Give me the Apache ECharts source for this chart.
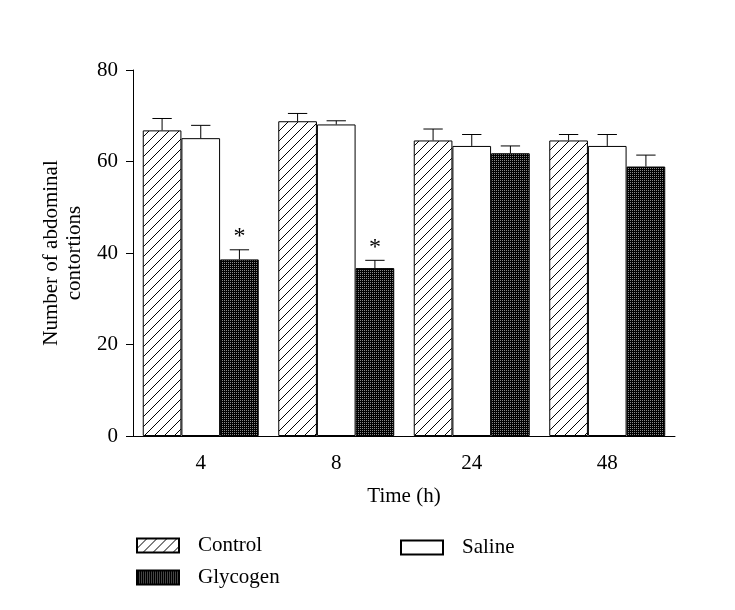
<!DOCTYPE html>
<html>
<head>
<meta charset="utf-8">
<script src="https://cdn.jsdelivr.net/npm/echarts@6/dist/echarts.min.js"></script>
<style>
    html, body { margin: 0; padding: 0; background: #fff; }
    #chart { width: 735px; height: 610px; }
</style>
</head>
<body>
<div id="chart"></div>
<script>
// values (mean and upper error)
const categories = ['4', '8', '24', '48']
const control = [66.8, 68.8, 64.6, 64.6]
const controlErr = [2.6, 1.7, 2.5, 1.3]
const saline = [65.1, 68.1, 63.4, 63.4]
const salineErr = [2.8, 0.8, 2.5, 2.5]
const glycogen = [38.6, 36.7, 61.8, 58.9]
const glycogenErr = [2.1, 1.7, 1.6, 2.5]
const significant = [true, true, false, false]   // * over glycogen
const yTicks = [0, 20, 40, 60, 80]

const FONT = 'Liberation Serif'
const FS = 21
const CAT_GAP = 0.144

function hatchPattern() {
    const c = document.createElement('canvas')
    c.width = 10
    c.height = 10
    const g = c.getContext('2d')
    g.fillStyle = '#fff'
    g.fillRect(0, 0, 10, 10)
    g.strokeStyle = '#000'
    g.lineWidth = 1
    g.beginPath()
    g.moveTo(0, 10); g.lineTo(10, 0)
    g.moveTo(-1, 1); g.lineTo(1, -1)
    g.moveTo(9, 11); g.lineTo(11, 9)
    g.stroke()
    return c
}

function dotPattern() {
    const c = document.createElement('canvas')
    c.width = 2
    c.height = 2
    const g = c.getContext('2d')
    g.fillStyle = '#000'
    g.fillRect(0, 0, 2, 2)
    g.fillStyle = '#8a8a8a'
    g.fillRect(0, 0, 1, 1)
    return c
}

const hatchFill = { image: hatchPattern(), repeat: 'repeat' }
const dotFill = { image: dotPattern(), repeat: 'repeat' }

function errorSeries(name, values, errs, offset, stars) {
    return {
        name: name + ' err',
        type: 'custom',
        z: 5,
        silent: true,
        data: values.map((v, i) => [i, v, errs[i], stars && stars[i] ? 1 : 0]),
        renderItem(params, api) {
            const idx = api.value(0)
            const val = api.value(1)
            const err = api.value(2)
            const catW = api.size([1, 0])[0]
            const barW = catW * (1 - CAT_GAP) / 3
            const x = api.coord([idx, 0])[0] + offset * barW
            const yTop = api.coord([idx, val])[1]
            const yErr = api.coord([idx, val + err])[1]
            const style = { stroke: '#000', lineWidth: 1 }
            const children = [
                { type: 'line', shape: { x1: x, y1: yTop, x2: x, y2: yErr }, style },
                { type: 'line', shape: { x1: x - barW / 4, y1: yErr, x2: x + barW / 4, y2: yErr }, style }
            ]
            if (api.value(3)) {
                children.push({
                    type: 'text',
                    style: {
                        text: '*', x: x, y: yErr - 1,
                        align: 'center', verticalAlign: 'bottom',
                        font: '24px "' + FONT + '"', fill: '#000'
                    }
                })
            }
            return { type: 'group', children }
        }
    }
}

const myChart = echarts.init(document.getElementById('chart'))
myChart.setOption({
    animation: false,
    textStyle: { fontFamily: FONT, color: '#000' },
    grid: { left: 133, right: 60, top: 70, bottom: 174 },
    legend: [
        { data: ['Control'], left: 131, top: 530 },
        { data: ['Saline'], left: 395, top: 532 },
        { data: ['Glycogen'], left: 131, top: 562 }
    ].map(l => Object.assign(l, {
        itemWidth: 42,
        itemHeight: 14,
        icon: 'rect',
        textStyle: { fontFamily: FONT, fontSize: FS, color: '#000', padding: [0, 0, 0, 14] }
    })),
    xAxis: {
        type: 'category',
        data: categories,
        name: 'Time (h)',
        nameLocation: 'middle',
        nameGap: 50,
        nameTextStyle: { fontFamily: FONT, fontSize: FS, color: '#000' },
        axisLine: { lineStyle: { color: '#000', width: 1 } },
        axisTick: { alignWithLabel: true, length: 7, lineStyle: { color: '#000' } },
        axisLabel: { fontFamily: FONT, fontSize: FS, color: '#000', margin: 17 }
    },
    yAxis: {
        type: 'value',
        min: 0,
        max: 80,
        interval: 20,
        name: 'Number of abdominal\ncontortions',
        nameLocation: 'middle',
        nameGap: 47,
        nameTextStyle: { fontFamily: FONT, fontSize: FS, color: '#000', lineHeight: 23 },
        axisLine: { show: true, lineStyle: { color: '#000', width: 1 } },
        axisTick: { show: true, length: 7, lineStyle: { color: '#000' } },
        axisLabel: {
            fontFamily: FONT, fontSize: FS, color: '#000', margin: 15,
            formatter: v => yTicks.includes(v) ? String(v) : ''
        },
        splitLine: { show: false }
    },
    series: [
        {
            name: 'Control', type: 'bar', data: control,
            barGap: '0%', barCategoryGap: (CAT_GAP * 100) + '%',
            itemStyle: { color: hatchFill, borderColor: '#000', borderWidth: 1 }
        },
        {
            name: 'Saline', type: 'bar', data: saline,
            itemStyle: { color: '#fff', borderColor: '#000', borderWidth: 1 }
        },
        {
            name: 'Glycogen', type: 'bar', data: glycogen,
            itemStyle: { color: dotFill, borderColor: '#000', borderWidth: 1 }
        },
        errorSeries('Control', control, controlErr, -1),
        errorSeries('Saline', saline, salineErr, 0),
        errorSeries('Glycogen', glycogen, glycogenErr, 1, significant)
    ]
})
</script>
</body>
</html>
